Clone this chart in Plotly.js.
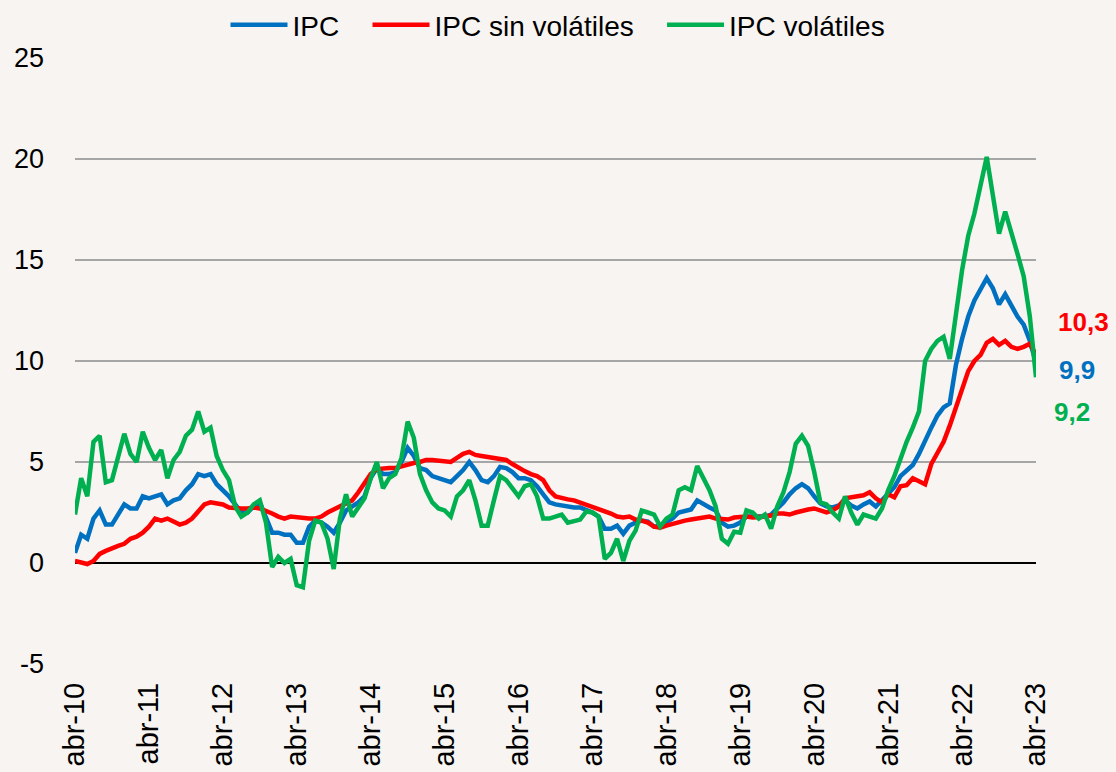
<!DOCTYPE html>
<html>
<head>
<meta charset="utf-8">
<script src="https://cdn.plot.ly/plotly-3.0.1.min.js"></script>
<style>
  html, body { margin: 0; padding: 0; background: #F7F4F1; }
  #chart { width: 1116px; height: 772px; }
</style>
</head>
<body>
<div id="chart"></div>
<script>
// Month labels (abr-10 ... abr-23), monthly
const monthNames = ['ene','feb','mar','abr','may','jun','jul','ago','sep','oct','nov','dic'];
const startYear = 2010, startMonth = 3, nMonths = 157;
const categories = [];
for (let k = 0; k < nMonths; k++) {
  const m = (startMonth + k) % 12;
  const y = startYear + Math.floor((startMonth + k) / 12);
  categories.push(monthNames[m] + '-' + String(y % 100).padStart(2, '0'));
}
const tickLabels = ['abr-10','abr-11','abr-12','abr-13','abr-14','abr-15','abr-16',
                    'abr-17','abr-18','abr-19','abr-20','abr-21','abr-22','abr-23'];
const yTickValues = [-5, 0, 5, 10, 15, 20, 25];
const yTickLabels = ['-5', '0', '5', '10', '15', '20', '25'];

// IPC (var. % anual)
const ipc = [
  0.5, 1.4, 1.2, 2.2, 2.6, 1.9, 1.9, 2.4, 2.9, 2.7, 2.7, 3.3,
  3.2, 3.3, 3.4, 2.9, 3.1, 3.2, 3.6, 3.9, 4.4, 4.3, 4.4, 3.9,
  3.6, 3.3, 2.9, 2.5, 2.5, 2.8, 3.0, 2.2, 1.5, 1.5, 1.4, 1.4,
  1.0, 1.0, 1.8, 2.1, 2.0, 1.8, 1.5, 2.0, 2.6, 2.8, 3.0, 3.3,
  4.2, 4.7, 4.4, 4.4, 4.5, 5.0, 5.7, 5.3, 4.7, 4.6, 4.3, 4.2,
  4.1, 4.0, 4.3, 4.6, 5.0, 4.6, 4.1, 4.0, 4.3, 4.75, 4.7, 4.5,
  4.2, 4.2, 4.1, 3.8, 3.4, 3.0, 2.9, 2.85, 2.75, 2.75, 2.75, 2.65,
  2.5, 2.3, 1.7, 1.7, 1.85, 1.45, 1.85, 2.0, 2.1, 2.05, 1.8, 1.85,
  2.0, 2.2, 2.5, 2.6, 2.65, 3.1, 2.9, 2.75, 2.6, 2.0, 1.8, 1.85,
  2.0, 2.3, 2.3, 2.3, 2.3, 2.4, 2.7, 3.0, 3.4, 3.7, 3.9, 3.7,
  3.3, 2.95, 2.8, 2.75, 2.85, 3.1, 2.85, 2.7, 2.9, 3.05, 2.8, 3.1,
  3.4, 3.75, 4.3, 4.6, 4.85, 5.4, 6.1, 6.7, 7.3, 7.7, 7.9, 9.8,
  11.1, 12.2, 13.0, 13.6, 14.1, 13.6, 12.8, 13.3, 12.7, 12.2, 11.8, 11.0,
  9.9
];

// IPC sin volátiles
const ipcSinVolatiles = [
  0.1, 0.0, -0.05, 0.1, 0.45, 0.6, 0.75, 0.85, 0.95, 1.2, 1.3, 1.5,
  1.8, 2.2, 2.1, 2.2, 2.05, 1.9, 2.0, 2.2, 2.55, 2.9, 3.0, 2.95,
  2.9, 2.75, 2.7, 2.7, 2.7, 2.75, 2.7, 2.6, 2.45, 2.3, 2.2, 2.3,
  2.25, 2.2, 2.2, 2.2, 2.3, 2.5, 2.65, 2.75, 2.9, 3.1, 3.5, 4.0,
  4.4, 4.65, 4.7, 4.7, 4.7, 4.8, 4.9, 4.95, 5.0, 5.1, 5.1, 5.05,
  5.0, 5.0, 5.2, 5.4, 5.5, 5.35, 5.3, 5.25, 5.25, 5.15, 5.1, 4.9,
  4.7, 4.55, 4.4, 4.3, 4.1, 3.6, 3.3, 3.2, 3.15, 3.1, 3.0, 2.85,
  2.75, 2.7, 2.6, 2.45, 2.3, 2.25, 2.3, 2.15, 2.1, 2.0, 1.8, 1.75,
  1.85, 1.95, 2.05, 2.1, 2.15, 2.2, 2.2, 2.3, 2.2, 2.15, 2.15, 2.25,
  2.3, 2.3, 2.25, 2.25, 2.3, 2.35, 2.45, 2.45, 2.4, 2.5, 2.6, 2.65,
  2.7, 2.6, 2.5, 2.6, 2.8, 3.2, 3.25, 3.3, 3.35, 3.5, 3.2, 3.0,
  3.4, 3.25, 3.8, 3.85, 4.2, 4.05, 3.9, 4.9, 5.5, 6.0, 6.8, 7.7,
  8.6, 9.5, 10.0, 10.3, 10.9, 11.1, 10.8, 11.0, 10.7, 10.6, 10.7, 10.85,
  10.3
];

// IPC volátiles
const ipcVolatiles = [
  2.4, 4.2, 3.3, 6.0, 6.3, 4.0, 4.1, 5.2, 6.4, 5.4, 5.0, 6.5,
  5.7, 5.1, 5.6, 4.2, 5.1, 5.5, 6.3, 6.6, 7.5, 6.5, 6.7, 5.3,
  4.6, 4.1, 2.8, 2.3, 2.5, 2.9, 3.1, 2.0, -0.2, 0.3, 0.0, 0.2,
  -1.1, -1.2, 1.1, 2.1, 2.0, 1.2, -0.3, 2.2, 3.4, 2.3, 2.8, 3.2,
  4.2, 5.0, 3.7, 4.2, 4.4, 5.2, 7.0, 6.2, 4.4, 3.6, 3.0, 2.7,
  2.6, 2.3, 3.3, 3.6, 4.1, 3.1, 1.85, 1.85, 3.1, 4.3, 4.1, 3.7,
  3.3, 3.8, 3.9, 3.3, 2.2, 2.2, 2.3, 2.4, 2.0, 2.1, 2.15, 2.55,
  2.5, 2.3, 0.2, 0.5, 1.2, 0.1, 1.1, 1.6, 2.6, 2.5, 2.4, 1.8,
  2.2, 2.4, 3.6, 3.75, 3.6, 4.8, 4.2, 3.6, 2.8, 1.2, 0.95, 1.55,
  1.5, 2.6, 2.5, 2.2, 2.4, 1.7, 2.8, 3.5, 4.5, 5.9, 6.3, 5.8,
  4.5, 3.0, 2.9, 2.5, 2.2, 3.3, 2.5, 1.9, 2.4, 2.3, 2.2, 2.7,
  3.6, 4.3, 5.2, 6.0, 6.7, 7.5, 10.0, 10.6, 11.0, 11.2, 10.1, 12.2,
  14.5, 16.2, 17.3, 18.7, 20.1, 18.2, 16.3, 17.4, 16.4, 15.3, 14.2, 12.2,
  9.2
];

const seriesNames = ['IPC', 'IPC sin volátiles', 'IPC volátiles'];
const seriesColors = ['#0070C0', '#FF0000', '#00B050'];
const seriesData = [ipc, ipcSinVolatiles, ipcVolatiles];

const FONT = 'Liberation Sans, Arial, sans-serif';
const PAD = '\u00a0\u00a0\u00a0';

const traces = seriesData.map((vals, k) => ({
  type: 'scatter',
  mode: 'lines',
  name: seriesNames[k] + (k < seriesNames.length - 1 ? PAD : ''),
  x: categories,
  y: vals,
  line: { color: seriesColors[k], width: 4.5 },
  hoverinfo: 'x+y'
}));

const lastIdx = categories.length - 1;
const endLabels = [
  { k: 1, xshift: 47, yshift: 33 },
  { k: 0, xshift: 41, yshift: -7 },
  { k: 2, xshift: 36, yshift: -35 }
];
const annotations = endLabels.map(e => ({
  x: categories[lastIdx],
  y: seriesData[e.k][lastIdx],
  xref: 'x', yref: 'y',
  text: '<b>' + seriesData[e.k][lastIdx].toFixed(1).replace('.', ',') + '</b>',
  showarrow: false,
  xshift: e.xshift,
  yshift: e.yshift,
  font: { family: FONT, size: 26, color: seriesColors[e.k] },
  xanchor: 'center', yanchor: 'middle'
}));

const layout = {
  width: 1116,
  height: 772,
  paper_bgcolor: '#F7F4F1',
  plot_bgcolor: '#F7F4F1',
  margin: { l: 75, r: 80, t: 58, b: 108, pad: 0 },
  showlegend: true,
  legend: {
    orientation: 'h',
    x: 0.5, xanchor: 'center', xref: 'container',
    y: 1.0, yanchor: 'top', yref: 'container',
    font: { family: FONT, size: 28, color: '#000000' },
    itemwidth: 57,
    bgcolor: 'rgba(0,0,0,0)',
    tracegroupgap: 0
  },
  xaxis: {
    type: 'category',
    range: [0, lastIdx],
    tickmode: 'array',
    tickvals: tickLabels,
    ticktext: tickLabels,
    tickangle: -90,
    ticks: '',
    ticklabelstandoff: 12,
    showgrid: false,
    zeroline: false,
    showline: false,
    tickfont: { family: FONT, size: 29, color: '#000000' },
    automargin: false
  },
  yaxis: {
    range: [-5, 25],
    tickmode: 'array',
    tickvals: yTickValues,
    ticktext: yTickLabels,
    showgrid: true,
    gridcolor: '#A6A6A6',
    gridwidth: 2,
    zeroline: true,
    zerolinecolor: '#000000',
    zerolinewidth: 2,
    showline: false,
    ticks: '',
    ticklabelstandoff: 30,
    tickfont: { family: FONT, size: 27, color: '#000000' },
    automargin: false
  },
  annotations: annotations
};

Plotly.newPlot('chart', traces, layout, { displayModeBar: false, staticPlot: true });
</script>
</body>
</html>
